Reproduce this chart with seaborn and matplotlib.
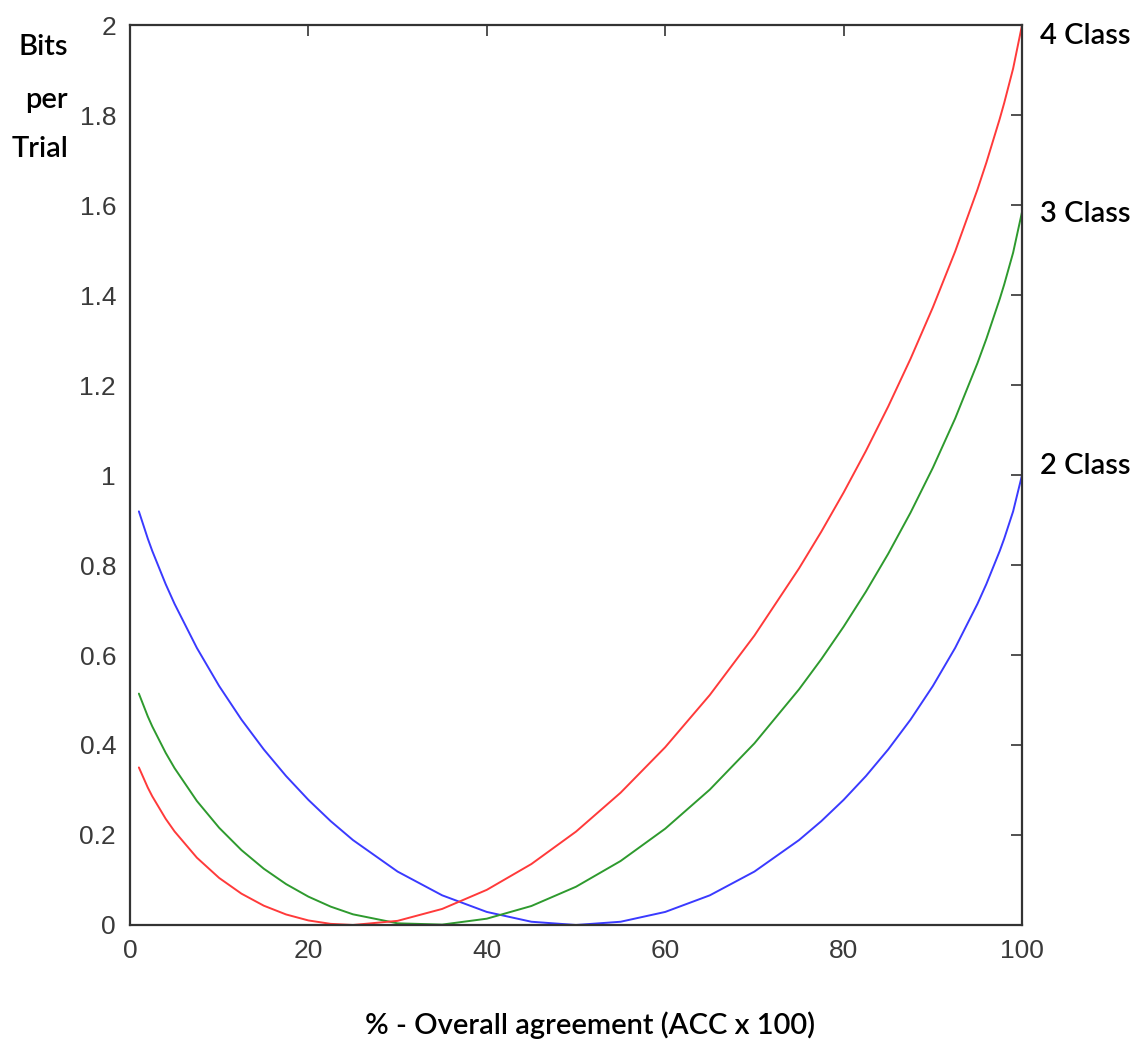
import matplotlib
matplotlib.use("Agg")
import matplotlib.pyplot as plt
import seaborn as sns
import pandas as pd

# Accuracy (%) sample positions
accuracy = [1, 2, 2.5, 4, 5, 7.5, 10, 12.5, 15, 17.5, 20, 22.5, 25, 30, 35, 40, 45, 50,
            55, 60, 65, 70, 75, 77.5, 80, 82.5, 85, 87.5, 90, 92.5, 95, 96, 97.5, 98, 99, 100]

# Bits per trial for each number of classes
bits_2class = [0.9192, 0.8586, 0.8313, 0.7577, 0.7136, 0.6157, 0.5310, 0.4564, 0.3902,
               0.3310, 0.2781, 0.2308, 0.1887, 0.1187, 0.0659, 0.0290, 0.0072, 0.0000,
               0.0072, 0.0290, 0.0659, 0.1187, 0.1887, 0.2308, 0.2781, 0.3310, 0.3902,
               0.4564, 0.5310, 0.6157, 0.7136, 0.7577, 0.8313, 0.8586, 0.9192, 1.0000]
bits_3class = [0.5142, 0.4635, 0.4413, 0.3827, 0.3486, 0.2756, 0.2160, 0.1664, 0.1251,
               0.0909, 0.0630, 0.0408, 0.0237, 0.0037, 0.0009, 0.0140, 0.0422, 0.0850,
               0.1422, 0.2140, 0.3009, 0.4037, 0.5237, 0.5908, 0.6630, 0.7409, 0.8251,
               0.9164, 1.0160, 1.1256, 1.2486, 1.3027, 1.3913, 1.4235, 1.4942, 1.5850]
bits_4class = [0.3501, 0.3053, 0.2860, 0.2361, 0.2079, 0.1496, 0.1045, 0.0696, 0.0429,
               0.0234, 0.0101, 0.0025, 0.0000, 0.0092, 0.0357, 0.0781, 0.1355, 0.2075,
               0.2940, 0.3951, 0.5112, 0.6432, 0.7925, 0.8742, 0.9611, 1.0536, 1.1524,
               1.2583, 1.3725, 1.4968, 1.6344, 1.6943, 1.7917, 1.8269, 1.9034, 2.0000]

series_names = ["2 Class", "3 Class", "4 Class"]
series_colors = {"2 Class": "#3a3aff", "3 Class": "#2e9a2e", "4 Class": "#ff3a3a"}

df = pd.concat([
    pd.DataFrame({"acc": accuracy, "bits": vals, "classes": name})
    for name, vals in zip(series_names, [bits_2class, bits_3class, bits_4class])
])

sns.set_theme(style="white")
plt.rcParams["font.family"] = ["Liberation Sans Narrow", "Liberation Sans", "DejaVu Sans"]

fig = plt.figure(figsize=(11.44, 10.44), dpi=100)
ax = fig.add_axes([0.1136, 0.114, 0.7798, 0.862])

sns.lineplot(data=df, x="acc", y="bits", hue="classes", palette=series_colors,
             hue_order=series_names, linewidth=1.4, legend=False, ax=ax, sort=True)

ax.set_xlim(0, 100)
ax.set_ylim(0, 2)
ax.set_xticks([0, 20, 40, 60, 80, 100])
ax.set_yticks([0, 0.2, 0.4, 0.6, 0.8, 1.0, 1.2, 1.4, 1.6, 1.8, 2.0])
ax.set_yticklabels(["0", "0.2", "0.4", "0.6", "0.8", "1", "1.2", "1.4", "1.6", "1.8", "2"])
ax.tick_params(direction="in", length=8, width=1.2, color="#333333",
               top=True, right=True, labelsize=19, labelcolor="#3a3a3a", pad=10)
for s in ax.spines.values():
    s.set_color("#333333")
    s.set_linewidth(1.6)
ax.set_xlabel("")
ax.set_ylabel("")

label_font = ["Lato", "DejaVu Sans"]
label_style = dict(fontsize=21, family=label_font, weight="semibold", color="#000000")

# y-axis title, one word per line
for word, yf in zip(["Bits", "per", "Trial"], [0.955, 0.904, 0.857]):
    fig.text(0.0595, yf, word, ha="right", va="center", **label_style)

for name, y in zip(["4 Class", "3 Class", "2 Class"], [1.975, 1.58, 1.02]):
    ax.annotate(name, xy=(1.0, y), xycoords=("axes fraction", "data"),
                xytext=(13, 0), textcoords="offset points", ha="left", va="center",
                **label_style)
fig.text(0.516, 0.018, "% - Overall agreement (ACC x 100)", ha="center", va="center",
         **label_style)

fig.savefig("out.png", dpi=100)
